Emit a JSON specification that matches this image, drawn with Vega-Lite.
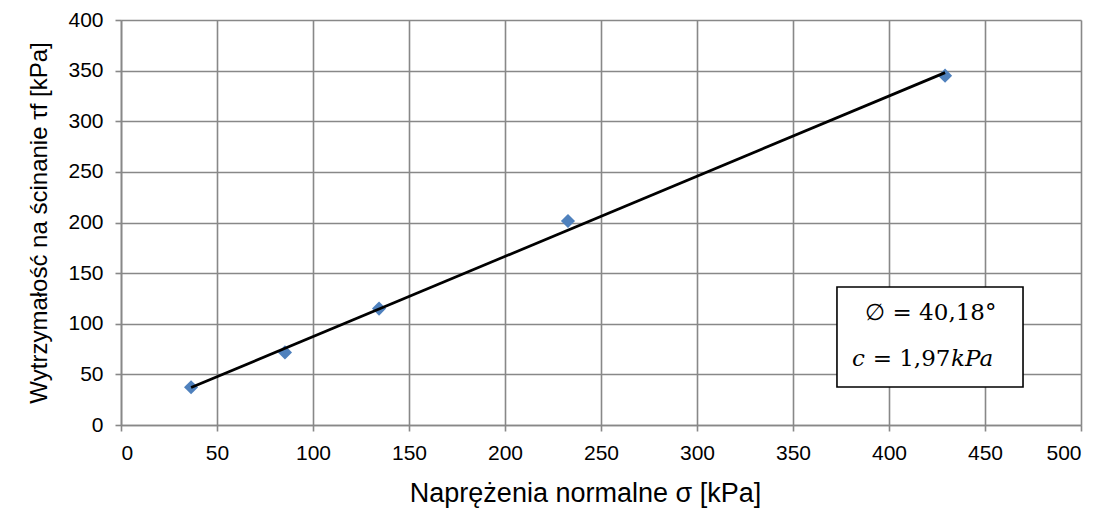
{
  "$schema": "https://vega.github.io/schema/vega-lite/v6.json",
  "autosize": "none",
  "width": 960,
  "height": 405,
  "padding": {"left": 121, "top": 20, "right": 24, "bottom": 105},
  "background": "white",
  "config": {
    "view": {"stroke": null},
    "font": "Liberation Sans"
  },
  "datasets": {
    "points": [
      {"sigma": 36.5, "tau": 37.3},
      {"sigma": 85.4, "tau": 71.7},
      {"sigma": 134.4, "tau": 115},
      {"sigma": 232.8, "tau": 201.5},
      {"sigma": 429.2, "tau": 345}
    ],
    "trend": [
      {"sigma": 36.5, "tau": 37.0},
      {"sigma": 429.2, "tau": 348.0}
    ],
    "box": [
      {"x1": 372.9, "x2": 469.8, "y1": 37.5, "y2": 136.3}
    ],
    "labels": [
      {"x": 421.8, "y": 110.6, "t": "∅ = 40,18°", "pos": "center"},
      {"x": 387.5, "y": 65.2, "t": "c", "pos": "italicright"},
      {"x": 432.0, "y": 65.2, "t": "= 1,97", "pos": "right"},
      {"x": 432.3, "y": 65.2, "t": "kPa", "pos": "italicleft"}
    ]
  },
  "layer": [
    {
      "data": {"name": "points"},
      "mark": {"type": "point", "shape": "diamond", "filled": true, "color": "#4F81BD", "size": 200, "opacity": 1},
      "encoding": {
        "x": {
          "field": "sigma", "type": "quantitative",
          "scale": {"domain": [0, 500], "nice": false, "zero": false},
          "axis": {
            "title": "Naprężenia normalne σ [kPa]",
            "values": [0, 50, 100, 150, 200, 250, 300, 350, 400, 450, 500],
            "grid": true, "gridColor": "#888888", "gridWidth": 1.6, "gridOpacity": 1,
            "domainColor": "#888888", "domainWidth": 1.6,
            "tickColor": "#888888", "tickWidth": 1.6, "tickSize": 6,
            "labelPadding": 11, "labelFontSize": 21, "labelColor": "#000000", "labelFont": "Liberation Sans",
            "titleFontSize": 27, "titleFontWeight": "normal", "titleColor": "#000000", "titleFont": "Liberation Sans",
            "titlePadding": 17, "titleX": 464
          }
        },
        "y": {
          "field": "tau", "type": "quantitative",
          "scale": {"domain": [0, 400], "nice": false, "zero": false},
          "axis": {
            "title": "Wytrzymałość na ścinanie τf [kPa]",
            "values": [0, 50, 100, 150, 200, 250, 300, 350, 400],
            "grid": true, "gridColor": "#888888", "gridWidth": 1.6, "gridOpacity": 1,
            "domainColor": "#888888", "domainWidth": 1.6,
            "tickColor": "#888888", "tickWidth": 1.6, "tickSize": 6,
            "labelPadding": 12, "labelFontSize": 21, "labelColor": "#000000", "labelFont": "Liberation Sans",
            "titleFontSize": 24, "titleFontWeight": "normal", "titleColor": "#000000", "titleFont": "Liberation Sans",
            "titlePadding": 16
          }
        }
      }
    },
    {
      "data": {"name": "trend"},
      "mark": {"type": "line", "color": "#000000", "strokeWidth": 2.8},
      "encoding": {
        "x": {"field": "sigma", "type": "quantitative"},
        "y": {"field": "tau", "type": "quantitative"}
      }
    },
    {
      "data": {"name": "box"},
      "mark": {"type": "rect", "fill": "white", "stroke": "#000000", "strokeWidth": 1.6},
      "encoding": {
        "x": {"field": "x1", "type": "quantitative"},
        "x2": {"field": "x2"},
        "y": {"field": "y1", "type": "quantitative"},
        "y2": {"field": "y2"}
      }
    },
    {
      "data": {"name": "labels"},
      "transform": [{"filter": "datum.pos === 'center'"}],
      "mark": {"type": "text", "font": "DejaVu Serif", "fontSize": 23, "color": "#000000", "align": "center", "baseline": "middle"},
      "encoding": {
        "x": {"field": "x", "type": "quantitative"},
        "y": {"field": "y", "type": "quantitative"},
        "text": {"field": "t"}
      }
    },
    {
      "data": {"name": "labels"},
      "transform": [{"filter": "datum.pos === 'right'"}],
      "mark": {"type": "text", "font": "DejaVu Serif", "fontSize": 23, "color": "#000000", "align": "right", "baseline": "middle"},
      "encoding": {
        "x": {"field": "x", "type": "quantitative"},
        "y": {"field": "y", "type": "quantitative"},
        "text": {"field": "t"}
      }
    },
    {
      "data": {"name": "labels"},
      "transform": [{"filter": "datum.pos === 'italicright'"}],
      "mark": {"type": "text", "font": "DejaVu Serif", "fontStyle": "italic", "fontSize": 23, "color": "#000000", "align": "right", "baseline": "middle"},
      "encoding": {
        "x": {"field": "x", "type": "quantitative"},
        "y": {"field": "y", "type": "quantitative"},
        "text": {"field": "t"}
      }
    },
    {
      "data": {"name": "labels"},
      "transform": [{"filter": "datum.pos === 'italicleft'"}],
      "mark": {"type": "text", "font": "DejaVu Serif", "fontStyle": "italic", "fontSize": 23, "color": "#000000", "align": "left", "baseline": "middle"},
      "encoding": {
        "x": {"field": "x", "type": "quantitative"},
        "y": {"field": "y", "type": "quantitative"},
        "text": {"field": "t"}
      }
    }
  ]
}
